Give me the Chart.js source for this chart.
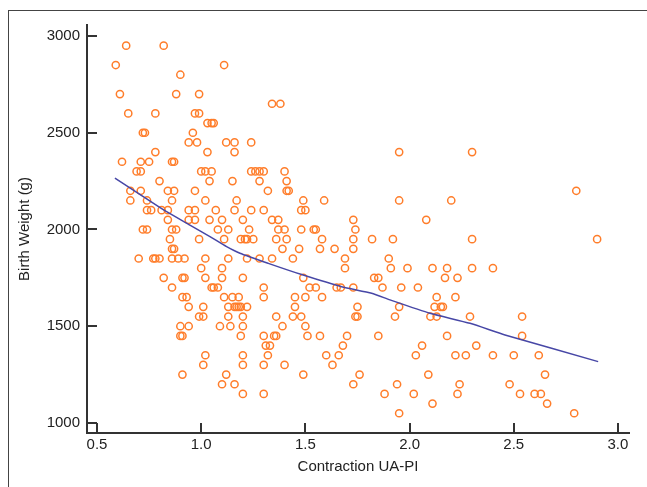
<!DOCTYPE html>
<html>
<head>
<meta charset="utf-8">
<script src="https://cdn.jsdelivr.net/npm/chart.js@4.4.1/dist/chart.umd.min.js"></script>
<style>
    body { margin: 0; background: #fff; }
    #wrap { position: relative; width: 647px; height: 487px; }
    #frame { position: absolute; left: 8px; top: 10px; right: -5px; bottom: -5px; border-top: 1px solid #444; border-left: 1px solid #444; }
    #chart { position: absolute; left: 0; top: 0; display: block; }
</style>
</head>
<body>
<div id="wrap">
    <div id="frame"></div>
    <canvas id="chart" width="647" height="487"></canvas>
</div>
<script>
// data, one line per weight row
var contraction = [
    0.64, 0.82,
    0.59, 1.11,
    0.90,
    0.61, 0.88, 0.99,
    1.34, 1.38,
    0.65, 0.78, 0.97, 0.99,
    1.03, 1.05, 1.06,
    0.72, 0.73, 0.96,
    0.94, 0.98, 1.12, 1.16, 1.24,
    0.78, 1.03, 1.16, 1.95, 2.30,
    0.62, 0.71, 0.75, 0.86, 0.87,
    0.69, 0.71, 1.00, 1.02, 1.05, 1.24, 1.26, 1.28, 1.30, 1.40,
    0.80, 1.04, 1.15, 1.28, 1.41,
    0.66, 0.71, 0.84, 0.87, 0.97, 1.32, 1.41, 1.42, 2.80,
    0.66, 0.74, 0.86, 1.02, 1.17, 1.49, 1.59, 1.95, 2.20,
    0.74, 0.76, 0.81, 0.84, 0.94, 0.97, 1.07, 1.16, 1.24, 1.30, 1.48, 1.50,
    0.84, 0.94, 0.97, 1.04, 1.10, 1.20, 1.34, 1.37, 1.73, 2.08,
    0.72, 0.74, 0.86, 0.88, 1.08, 1.13, 1.23, 1.37, 1.40, 1.48, 1.54, 1.55, 1.74,
    0.85, 0.99, 1.11, 1.19, 1.21, 1.22, 1.25, 1.36, 1.41, 1.58, 1.73, 1.82, 1.92, 2.30, 2.90,
    0.86, 0.87, 1.39, 1.47, 1.57, 1.64, 1.73,
    0.70, 0.77, 0.78, 0.80, 0.86, 0.89, 0.92, 1.02, 1.13, 1.22, 1.28, 1.34, 1.44, 1.69, 1.90,
    1.00, 1.10, 1.69, 1.91, 1.99, 2.11, 2.18, 2.30, 2.40,
    0.82, 0.91, 0.92, 1.02, 1.10, 1.20, 1.49, 1.83, 1.85, 2.17, 2.23,
    0.86, 1.05, 1.06, 1.08, 1.30, 1.52, 1.55, 1.65, 1.67, 1.73, 1.87, 1.96, 2.04,
    0.91, 0.93, 1.11, 1.15, 1.18, 1.30, 1.45, 1.50, 1.58, 2.13, 2.22,
    0.94, 1.01, 1.13, 1.16, 1.17, 1.18, 1.19, 1.22, 1.45, 1.75, 1.95, 2.12, 2.15, 2.16,
    0.99, 1.01, 1.13, 1.20, 1.36, 1.44, 1.48, 1.74, 1.75, 1.93, 2.10, 2.13, 2.29, 2.54,
    0.90, 0.94, 1.09, 1.14, 1.20, 1.39, 1.50,
    0.90, 0.91, 1.19, 1.30, 1.35, 1.36, 1.51, 1.57, 1.70, 1.85, 2.18, 2.54,
    1.31, 1.33, 1.68, 2.06, 2.32,
    1.02, 1.20, 1.32, 1.60, 1.66, 2.03, 2.22, 2.27, 2.40, 2.50, 2.62,
    1.01, 1.20, 1.30, 1.40, 1.63,
    0.91, 1.12, 1.49, 1.76, 2.09, 2.65,
    1.10, 1.16, 1.73, 1.94, 2.24, 2.48,
    1.20, 1.30, 1.88, 2.02, 2.23, 2.53, 2.60, 2.63,
    2.11, 2.66,
    1.95, 2.79
];
var weightRows = [2950, 2850, 2800, 2700, 2650, 2600, 2550, 2500, 2450, 2400, 2350, 2300, 2250, 2200, 2150, 2100,
    2050, 2000, 1950, 1900, 1850, 1800, 1750, 1700, 1650, 1600, 1550, 1500, 1450, 1400, 1350, 1300, 1250, 1200, 1150, 1100, 1050];
var rowCounts = [2, 2, 1, 3, 2, 4, 3, 3, 5, 5, 5, 10, 5, 9, 9, 12,
    10, 13, 15, 7, 15, 9, 11, 13, 11, 14, 14, 7, 12, 5, 11, 5, 6, 6, 8, 2, 2];

// smoothed trend line
var trendX = [0.586, 0.722, 0.834, 0.946, 1.042, 1.122, 1.186, 1.322, 1.482, 1.674, 1.818, 1.906, 2.098, 2.290, 2.458, 2.905];
var trendY = [2265, 2170, 2092, 2023, 1963, 1911, 1877, 1825, 1767, 1704, 1670, 1636, 1567, 1515, 1455, 1317];

var xTicks = [0.5, 1.0, 1.5, 2.0, 2.5, 3.0];
var yTicks = [1000, 1500, 2000, 2500, 3000];

var weight = [];
weightRows.forEach(function (w, i) {
    for (var k = 0; k < rowCounts[i]; k++) weight.push(w);
});
var points = contraction.map(function (c, i) { return {x: c, y: weight[i]}; });
var trend = trendX.map(function (c, i) { return {x: c, y: trendY[i]}; });

var axisColor = '#333';
var labelFont = {family: 'Liberation Sans, Arial, sans-serif', size: 15};

// tick marks pointing into the plot
var innerTicks = {
    id: 'innerTicks',
    afterDraw: function (chart) {
        var ctx = chart.ctx, area = chart.chartArea, sx = chart.scales.x, sy = chart.scales.y;
        ctx.save();
        ctx.strokeStyle = axisColor;
        ctx.lineWidth = 2;
        xTicks.forEach(function (v) {
            var px = Math.round(sx.getPixelForValue(v));
            ctx.beginPath();
            ctx.moveTo(px, area.bottom);
            ctx.lineTo(px, area.bottom - 10);
            ctx.stroke();
        });
        yTicks.forEach(function (v) {
            var py = Math.round(sy.getPixelForValue(v));
            ctx.beginPath();
            ctx.moveTo(area.left, py);
            ctx.lineTo(area.left + 10, py);
            ctx.stroke();
        });
        ctx.restore();
    }
};

new Chart(document.getElementById('chart'), {
    type: 'scatter',
    data: {
        datasets: [{
            type: 'line',
            data: trend,
            borderColor: '#4747a6',
            borderWidth: 1.5,
            pointRadius: 0,
            fill: false,
            tension: 0.2
        }, {
            data: points,
            pointRadius: 3.6,
            pointBorderWidth: 1.5,
            borderColor: '#ff7d2a',
            backgroundColor: 'rgba(255,255,255,0)'
        }]
    },
    options: {
        responsive: false,
        animation: false,
        layout: {padding: {top: 25, right: 18, left: 0, bottom: 0}},
        plugins: {legend: {display: false}, tooltip: {enabled: false}},
        scales: {
            x: {
                type: 'linear',
                min: 0.452,
                max: 3.053,
                afterBuildTicks: function (scale) {
                    scale.ticks = xTicks.map(function (v) { return {value: v}; });
                },
                afterFit: function (scale) { scale.height = 54; },
                grid: {display: false, drawTicks: false},
                border: {display: true, color: axisColor, width: 2},
                ticks: {
                    color: '#222',
                    font: labelFont,
                    padding: 3,
                    maxRotation: 0,
                    callback: function (v) { return v.toFixed(1); }
                },
                title: {display: true, text: 'Contraction UA-PI', color: '#222', font: labelFont, padding: {top: 0, bottom: 11}}
            },
            y: {
                type: 'linear',
                min: 948,
                max: 3057,
                afterBuildTicks: function (scale) {
                    scale.ticks = yTicks.map(function (v) { return {value: v}; });
                },
                afterFit: function (scale) { scale.width = 87; },
                grid: {display: false, drawTicks: false},
                border: {display: true, color: axisColor, width: 2},
                ticks: {
                    color: '#222',
                    font: labelFont,
                    padding: 7,
                    callback: function (v) { return String(v); }
                },
                title: {display: true, text: 'Birth Weight (g)', color: '#222', font: labelFont, padding: {top: 16, bottom: 0}}
            }
        }
    },
    plugins: [innerTicks]
});
</script>
</body>
</html>
